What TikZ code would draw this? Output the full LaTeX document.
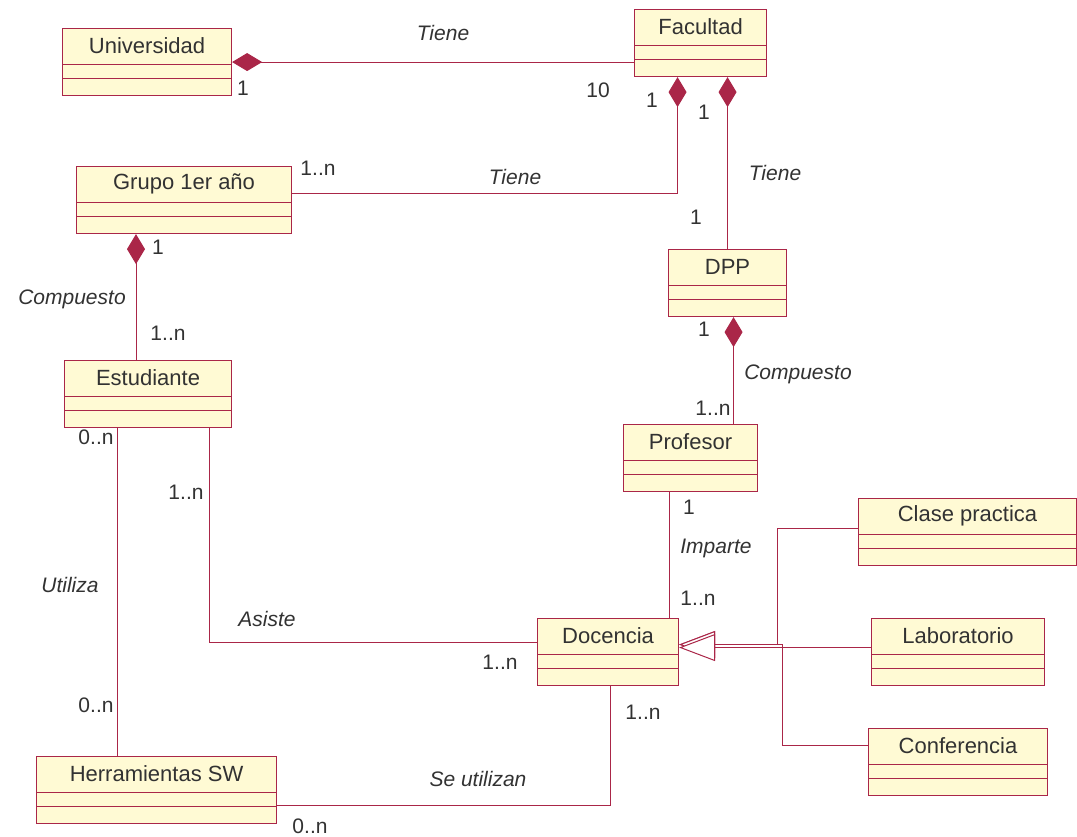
\documentclass[tikz,border=0pt]{standalone}
\usepackage{fontspec}
\setmainfont{Liberation Sans}
\usetikzlibrary{arrows.meta,calc}

\definecolor{umlred}{RGB}{170,38,72}
\definecolor{umlfill}{RGB}{255,250,212}
\definecolor{umltext}{RGB}{50,50,50}

\tikzset{
  classbox/.style={draw=umlred, fill=umlfill, line width=1.1pt, rectangle,
    inner sep=0pt, minimum height=67pt, anchor=north west},
  classline/.style={draw=umlred, line width=1pt},
  classtitle/.style={text=umltext, font=\fontsize{22}{26}\selectfont, inner sep=0pt},
  lbl/.style={text=umltext, font=\fontsize{21}{25}\selectfont, inner sep=0pt},
  assoc/.style={text=umltext, font=\fontsize{21}{25}\selectfont\itshape, inner sep=0pt},
  link/.style={draw=umlred, line width=1pt},
  comp/.style={link, {Diamond[length=30pt,width=18pt,fill=umlred,color=umlred]}-},
  gen/.style={link, -{Triangle[length=36pt,width=27pt,fill=white,color=umlred,line width=1pt]}}
}

% #1 name, #2 left, #3 top, #4 width, #5 class name
\newcommand\umlclass[5]{%
  \node[classbox, minimum width=#4pt] (#1) at (#2,#3) {};
  \node[classtitle] (#1-t) at ($(#1.north)+(0,18)$) {#5};
  \draw[classline] ($(#1.north west)+(0,36)$) -- ($(#1.north east)+(0,36)$);
  \draw[classline] ($(#1.north west)+(0,50)$) -- ($(#1.north east)+(0,50)$);
}

\begin{document}
\begin{tikzpicture}[x=1pt,y=-1pt]
\useasboundingbox (0,0) rectangle (1077,836);

\umlclass{uni}{62}{28}{169}{Universidad}
\umlclass{fac}{634}{9}{132}{Facultad}
\umlclass{grp}{76}{166}{215}{Grupo 1er año}
\umlclass{est}{64}{360}{167}{Estudiante}
\umlclass{dpp}{668}{249}{118}{DPP}
\umlclass{prof}{623}{424}{134}{Profesor}
\umlclass{clase}{858}{498}{218}{Clase practica}
\umlclass{lab}{871}{618}{173}{Laboratorio}
\umlclass{doc}{537}{618}{141}{Docencia}
\umlclass{conf}{868}{728}{179}{Conferencia}
\umlclass{herr}{36}{756}{240}{Herramientas SW}

% Universidad -- Facultad
\draw[comp] (uni.east) -- (uni.east -| fac.west);
\node[assoc] at (443,33) {Tiene};
\node[lbl] at (243,88) {1};
\node[lbl] at (598,90) {10};

% Facultad -- Grupo 1er año
\coordinate (fg) at ($(fac.south)+(-23,0)$);
\draw[comp] (fg) |- ($(grp.east)+(0,-7)$);
\node[lbl] at (652,100) {1};
\node[lbl] at (318,168) {1..n};
\node[assoc] at (515,177) {Tiene};

% Facultad -- DPP
\draw[comp] (dpp.north |- fac.south) -- (dpp.north);
\node[lbl] at (704,112) {1};
\node[assoc] at (775,173) {Tiene};
\node[lbl] at (696,217) {1};

% Grupo 1er año -- Estudiante
\coordinate (ge) at ($(grp.south west)+(60,0)$);
\draw[comp] (ge) -- (ge |- est.north);
\node[lbl] at (158,247) {1};
\node[assoc] at (72,299) {Compuesto};
\node[lbl] at (168,333) {1..n};

% DPP -- Profesor
\coordinate (dp) at ($(dpp.south)+(6,0)$);
\draw[comp] (dp) -- (dp |- prof.north);
\node[lbl] at (704,329) {1};
\node[assoc] at (798,374) {Compuesto};
\node[lbl] at (713,408) {1..n};

% Profesor -- Docencia
\coordinate (pd) at ($(prof.south)+(-21,0)$);
\draw[link] (pd) -- (pd |- doc.north);
\node[lbl] at (689,507) {1};
\node[assoc] at (716,548) {Imparte};
\node[lbl] at (698,598) {1..n};

% Estudiante -- Docencia
\coordinate (ed) at ($(est.south east)+(-23,0)$);
\draw[link] (ed) |- ($(doc.west)+(0,-10)$);
\node[lbl] at (186,492) {1..n};
\node[assoc] at (267,619) {Asiste};
\node[lbl] at (500,662) {1..n};

% Estudiante -- Herramientas SW
\coordinate (eh) at ($(est.south west)+(53,0)$);
\draw[link] (eh) -- (eh |- herr.north);
\node[lbl] at (96,437) {0..n};
\node[assoc] at (70,585) {Utiliza};
\node[lbl] at (96,705) {0..n};

% Docencia -- Herramientas SW
\coordinate (dh) at ($(doc.south)+(2.5,0)$);
\draw[link] (dh) |- ($(herr.east)+(0,15.5)$);
\node[lbl] at (643,712) {1..n};
\node[assoc] at (478,779) {Se utilizan};
\node[lbl] at (310,826) {0..n};

% Generalization into Docencia
\coordinate (tipA) at ($(doc.east)+(0,-7.5)$);
\coordinate (tipB) at ($(doc.east)+(0,-4.5)$);
\draw[gen] ($(clase.west)+(0,-3.5)$) -| ($(tipA)+(98,0)$) -- (tipA);
\draw[gen] ($(conf.west)+(0,-16.5)$) -| ($(tipA)+(103,0)$) -- (tipA);
\draw[gen] ($(lab.west)+(0,-4.5)$) -- (tipB);
\end{tikzpicture}
\end{document}
